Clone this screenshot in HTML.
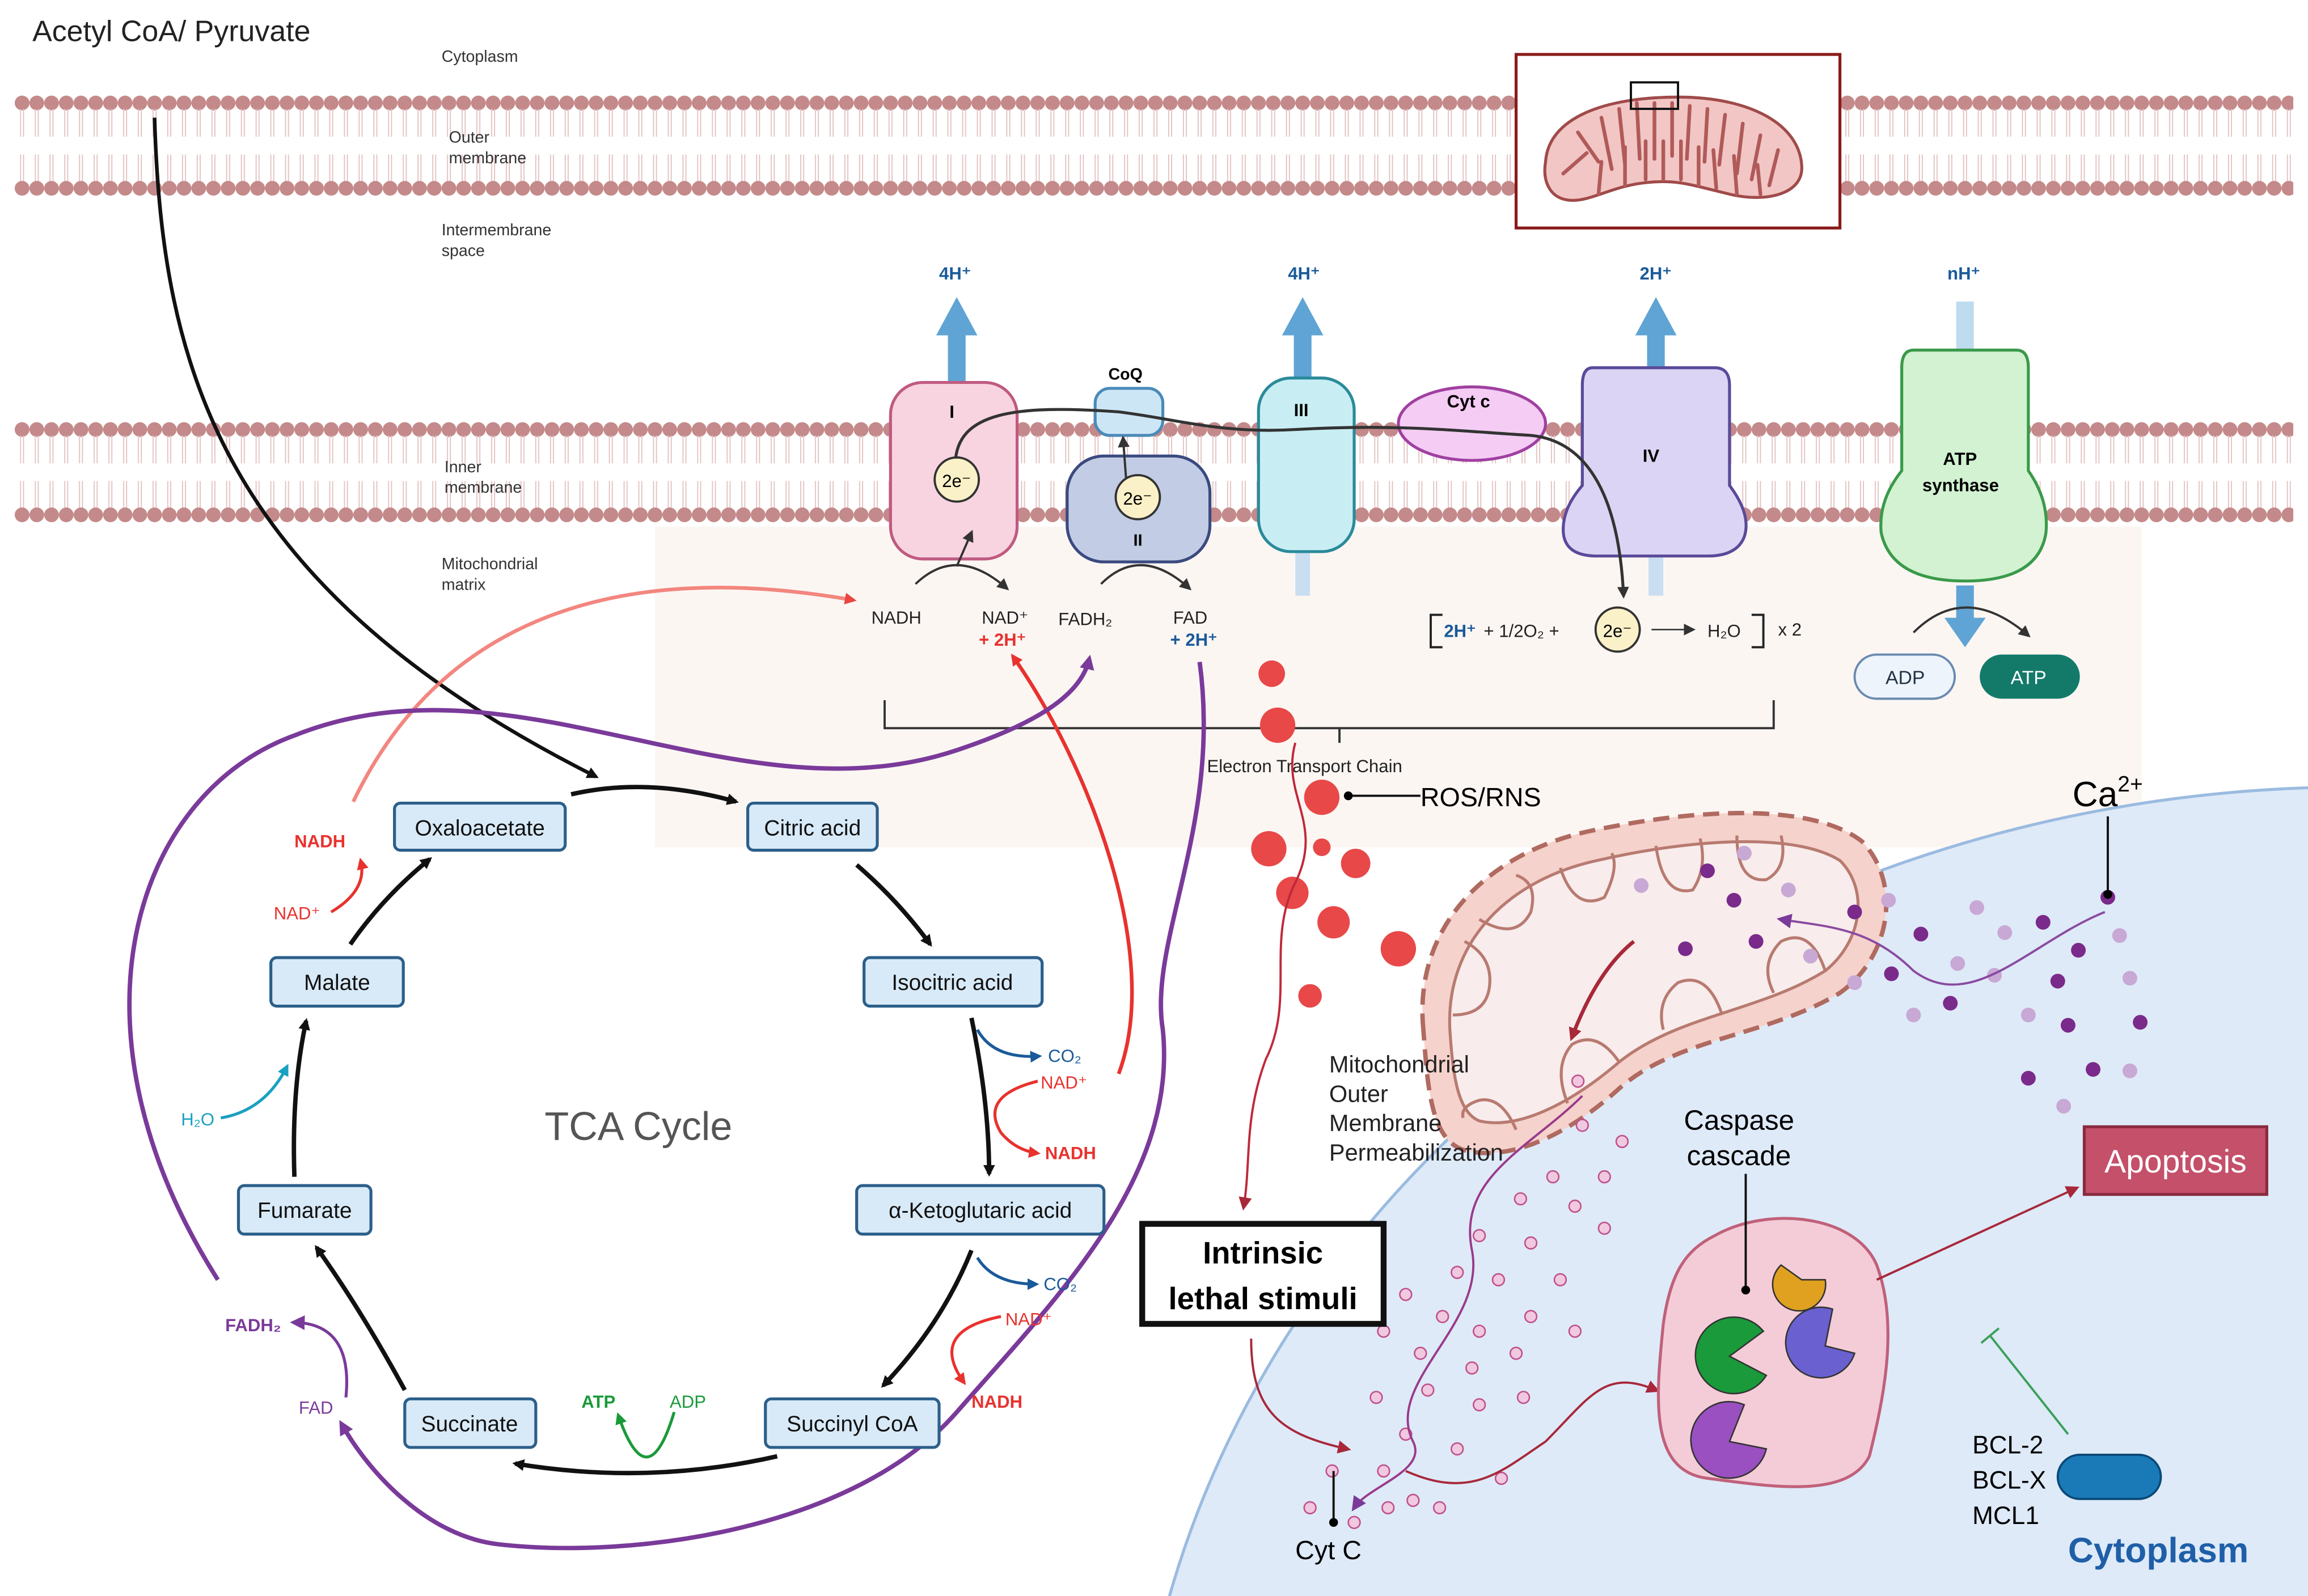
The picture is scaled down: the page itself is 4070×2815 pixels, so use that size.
<!DOCTYPE html>
<html><head><meta charset="utf-8"><style>
html,body{margin:0;padding:0;background:#fff;width:4070px;height:2815px;overflow:hidden;}
svg{display:block;}
text{font-family:"Liberation Sans",sans-serif;}
</style></head><body>
<svg width="4070" height="2815" viewBox="0 0 1568 1085" preserveAspectRatio="none" xmlns="http://www.w3.org/2000/svg">
<defs>
<pattern id="lip1" x="0" y="65" width="10" height="68" patternUnits="userSpaceOnUse">
<circle cx="5" cy="5" r="5" fill="#c4898a"/>
<path d="M4 9 L4 28 M6 9 L6 28 M4 40 L4 59 M6 40 L6 59" stroke="#e3c0c0" stroke-width="0.7"/>
<circle cx="5" cy="63" r="5" fill="#c4898a"/>
</pattern>
<pattern id="lip2" x="0" y="287" width="10" height="68" patternUnits="userSpaceOnUse">
<circle cx="5" cy="5" r="5" fill="#c4898a"/>
<path d="M4 9 L4 28 M6 9 L6 28 M4 40 L4 59 M6 40 L6 59" stroke="#e3c0c0" stroke-width="0.7"/>
<circle cx="5" cy="63" r="5" fill="#c4898a"/>
</pattern>
<marker id="ak" markerWidth="8" markerHeight="8" refX="6" refY="4" orient="auto" markerUnits="userSpaceOnUse"><path d="M0 0 L8 4 L0 8z" fill="#111"/></marker>
<marker id="ar" markerWidth="8" markerHeight="8" refX="6" refY="4" orient="auto" markerUnits="userSpaceOnUse"><path d="M0 0 L8 4 L0 8z" fill="#e8322e"/></marker>
<marker id="ap" markerWidth="10" markerHeight="10" refX="7" refY="5" orient="auto" markerUnits="userSpaceOnUse"><path d="M0 0 L10 5 L0 10z" fill="#7a3a9a"/></marker>
<marker id="ab" markerWidth="8" markerHeight="8" refX="6" refY="4" orient="auto" markerUnits="userSpaceOnUse"><path d="M0 0 L8 4 L0 8z" fill="#1a5a9a"/></marker>
<marker id="ac" markerWidth="8" markerHeight="8" refX="6" refY="4" orient="auto" markerUnits="userSpaceOnUse"><path d="M0 0 L8 4 L0 8z" fill="#1aa0c0"/></marker>
<marker id="ag" markerWidth="8" markerHeight="8" refX="6" refY="4" orient="auto" markerUnits="userSpaceOnUse"><path d="M0 0 L8 4 L0 8z" fill="#1a9a3a"/></marker>
<marker id="am" markerWidth="9" markerHeight="9" refX="6" refY="4.5" orient="auto" markerUnits="userSpaceOnUse"><path d="M0 0 L9 4.5 L0 9z" fill="#a8283a"/></marker>
<marker id="al" markerWidth="8" markerHeight="8" refX="6" refY="4" orient="auto" markerUnits="userSpaceOnUse"><path d="M0 0 L8 4 L0 8z" fill="#333"/></marker>
</defs>
<rect width="1568" height="1085" fill="#fff"/>
<rect x="445" y="358" width="1010" height="218" fill="#fcf6f3"/>
<ellipse cx="1600" cy="1260" rx="830" ry="725" fill="#deeaf8" stroke="#9bbbe0" stroke-width="2"/>
<rect x="10" y="65" width="1548" height="68" fill="url(#lip1)"/>
<rect x="10" y="287" width="1548" height="68" fill="url(#lip2)"/>
<text x="300" y="42" font-size="11" fill="#333">Cytoplasm</text>
<text x="305" y="97" font-size="11" fill="#333">Outer</text><text x="305" y="111" font-size="11" fill="#333">membrane</text>
<text x="300" y="160" font-size="11" fill="#333">Intermembrane</text><text x="300" y="174" font-size="11" fill="#333">space</text>
<text x="302" y="321" font-size="11" fill="#333">Inner</text><text x="302" y="335" font-size="11" fill="#333">membrane</text>
<text x="300" y="387" font-size="11" fill="#333">Mitochondrial</text><text x="300" y="401" font-size="11" fill="#333">matrix</text>
<text x="22" y="28" font-size="20" fill="#222">Acetyl CoA/ Pyruvate</text>
<rect x="1030" y="37" width="220" height="118" fill="#fff" stroke="#8a1a1a" stroke-width="2"/>
<path d="M1050 110 C1052 80 1090 66 1140 66 C1190 66 1222 85 1224 112 C1226 132 1200 138 1175 132 C1150 126 1140 122 1120 124 C1095 126 1080 138 1065 136 C1052 134 1048 122 1050 110z" fill="#f2c6c4" stroke="#a04a4a" stroke-width="2"/>
<path d="M1062 118 L1078 104 M1072 90 L1086 110 M1088 80 L1095 115 M1100 74 L1104 112 M1112 70 L1114 108 M1124 70 L1124 108 M1136 70 L1136 106 M1148 72 L1146 108 M1160 74 L1158 110 M1172 78 L1168 112 M1184 84 L1180 118 M1196 92 L1190 122 M1208 102 L1202 126 M1086 132 L1088 110 M1104 126 L1104 100 M1118 122 L1118 96 M1130 122 L1130 96 M1142 122 L1142 96 M1154 126 L1154 100 M1166 128 L1164 102 M1180 132 L1178 106 M1196 132 L1194 112" stroke="#b05a5a" stroke-width="2.5" stroke-linecap="round"/>
<rect x="1108" y="56" width="32" height="18" fill="none" stroke="#111" stroke-width="1.5"/>
<g fill="#5fa4d4">
<path d="M644 262 L644 228 L636 228 L650 202 L664 228 L656 228 L656 262z"/>
<path d="M879 262 L879 228 L871 228 L885 202 L899 228 L891 228 L891 262z"/>
<path d="M1119 252 L1119 228 L1111 228 L1125 202 L1139 228 L1131 228 L1131 252z"/>
<path d="M1329 240 L1329 205 L1341 205 L1341 240z" opacity="0.4"/>
<path d="M1329 398 L1329 420 L1321 420 L1335 440 L1349 420 L1341 420 L1341 398z"/>
</g>
<rect x="880" y="375" width="10" height="30" fill="#c9def0"/>
<rect x="1120" y="375" width="10" height="30" fill="#c9def0"/>
<g font-size="12" font-weight="bold" fill="#1a5a9a">
<text x="638" y="190">4H⁺</text><text x="875" y="190">4H⁺</text><text x="1114" y="190">2H⁺</text><text x="1323" y="190">nH⁺</text></g>
<rect x="605" y="260" width="86" height="120" rx="22" fill="#f8d4e0" stroke="#c05a80" stroke-width="2"/>
<text x="645" y="284" font-size="12" font-weight="bold">I</text>
<rect x="744" y="264" width="46" height="32" rx="10" fill="#cde6f6" stroke="#4a8ab8" stroke-width="2"/>
<text x="753" y="258" font-size="11" font-weight="bold">CoQ</text>
<rect x="725" y="310" width="97" height="72" rx="25" fill="#c2cce4" stroke="#3a4a80" stroke-width="2"/>
<text x="770" y="371" font-size="11" font-weight="bold">II</text>
<rect x="855" y="257" width="65" height="118" rx="22" fill="#c8eef4" stroke="#2a8a9a" stroke-width="2"/>
<text x="879" y="283" font-size="12" font-weight="bold">III</text>
<ellipse cx="1000" cy="288" rx="50" ry="25" fill="#f4ccf4" stroke="#a040a0" stroke-width="2"/>
<text x="983" y="277" font-size="12" font-weight="bold">Cyt c</text>
<path d="M1082 250 L1165 250 Q1175 250 1175 262 L1175 330 Q1190 350 1185 365 Q1180 378 1160 378 L1085 378 Q1062 378 1062 360 Q1062 345 1075 330 L1075 262 Q1075 250 1082 250z" fill="#dcd4f4" stroke="#5a4a9a" stroke-width="2"/>
<text x="1116" y="314" font-size="12" font-weight="bold">IV</text>
<path d="M1300 238 L1370 238 Q1378 238 1378 250 L1378 320 Q1392 340 1390 362 Q1385 395 1335 395 Q1285 395 1278 362 Q1276 340 1292 320 L1292 250 Q1292 238 1300 238z" fill="#d2f2d2" stroke="#3a9a4a" stroke-width="2"/>
<text x="1320" y="316" font-size="12" font-weight="bold">ATP</text><text x="1306" y="334" font-size="12" font-weight="bold">synthase</text>
<path d="M649 315 C650 280 690 275 760 280 C800 285 830 295 880 292 C950 288 990 293 1040 296 C1080 300 1100 340 1103 405" fill="none" stroke="#333" stroke-width="2" marker-end="url(#al)"/>
<path d="M765 325 L763 298" stroke="#333" stroke-width="1.5" marker-end="url(#al)"/>
<g font-size="12"><circle cx="650" cy="326" r="15" fill="#fbf1c8" stroke="#333" stroke-width="1.5"/><text x="640" y="331">2e⁻</text>
<circle cx="773" cy="338" r="15" fill="#fbf1c8" stroke="#333" stroke-width="1.5"/><text x="763" y="343">2e⁻</text>
<circle cx="1099" cy="428" r="15" fill="#fbf1c8" stroke="#333" stroke-width="1.5"/><text x="1089" y="433">2e⁻</text></g>
<path d="M622 397 Q650 370 684 400" fill="none" stroke="#333" stroke-width="1.5" marker-end="url(#al)"/>
<path d="M650 385 L660 362" stroke="#333" stroke-width="1.5" marker-end="url(#al)"/>
<path d="M748 397 Q775 370 808 400" fill="none" stroke="#333" stroke-width="1.5" marker-end="url(#al)"/>
<path d="M1300 430 Q1335 395 1378 432" fill="none" stroke="#333" stroke-width="1.5" marker-end="url(#al)"/>
<g font-size="12" fill="#222">
<text x="592" y="424">NADH</text><text x="667" y="424">NAD⁺</text><text x="665" y="439" fill="#e8322e" font-weight="bold">+ 2H⁺</text>
<text x="719" y="425">FADH₂</text><text x="797" y="424">FAD</text><text x="795" y="439" fill="#1a5a9a" font-weight="bold">+ 2H⁺</text>
<text x="981" y="433" fill="#1a5a9a" font-weight="bold">2H⁺</text><text x="1008" y="433">+ 1/2O₂ +</text>
<text x="1160" y="433">H₂O</text><text x="1208" y="432">x 2</text>
<text x="820" y="525">Electron Transport Chain</text></g>
<path d="M980 418 L972 418 L972 440 L980 440 M1190 418 L1198 418 L1198 440 L1190 440" fill="none" stroke="#222" stroke-width="1.5"/>
<path d="M1122 428 L1150 428" stroke="#333" stroke-width="1" marker-end="url(#al)"/>
<path d="M601 476 L601 495 L1205 495 L1205 476 M910 495 L910 505" fill="none" stroke="#333" stroke-width="1.5"/>
<rect x="1260" y="445" width="68" height="30" rx="15" fill="#eef4fc" stroke="#6a8ab0" stroke-width="1.5"/><text x="1281" y="465" font-size="13" fill="#234">ADP</text>
<rect x="1345" y="445" width="68" height="30" rx="15" fill="#137a6a"/><text x="1366" y="465" font-size="13" fill="#fff">ATP</text>
<path d="M105 80 C110 250 150 400 405 528" fill="none" stroke="#111" stroke-width="2.5" marker-end="url(#ak)"/>
<path d="M240 545 C300 420 420 380 580 408" fill="none" stroke="#f27a72" stroke-width="2.5" marker-end="url(#ar)" opacity="0.9"/>
<path d="M760 730 C790 650 740 520 688 446" fill="none" stroke="#e8322e" stroke-width="2.5" marker-end="url(#ar)"/>
<path d="M148 870 C40 700 90 540 200 500 C350 440 500 560 650 510 C710 490 735 470 740 448" fill="none" stroke="#7a3a9a" stroke-width="3" marker-end="url(#ap)"/>
<path d="M815 450 C830 560 780 640 790 700 C800 800 720 880 650 960 C580 1040 430 1060 340 1050 C290 1045 250 1000 232 968" fill="none" stroke="#7a3a9a" stroke-width="3" marker-end="url(#ap)"/>
<g fill="#d8eaf8" stroke="#2c5f8a" stroke-width="2">
<rect x="268" y="546" width="116" height="32" rx="4"/><rect x="508" y="546" width="88" height="32" rx="4"/>
<rect x="587" y="651" width="121" height="33" rx="4"/><rect x="582" y="806" width="168" height="33" rx="4"/>
<rect x="520" y="951" width="118" height="33" rx="4"/><rect x="275" y="951" width="89" height="33" rx="4"/>
<rect x="162" y="806" width="90" height="33" rx="4"/><rect x="184" y="651" width="90" height="33" rx="4"/></g>
<g font-size="15" fill="#111" text-anchor="middle">
<text x="326" y="568">Oxaloacetate</text><text x="552" y="568">Citric acid</text><text x="647" y="673">Isocitric acid</text>
<text x="666" y="828">α-Ketoglutaric acid</text><text x="579" y="973">Succinyl CoA</text><text x="319" y="973">Succinate</text>
<text x="207" y="828">Fumarate</text><text x="229" y="673">Malate</text></g>
<text x="370" y="775" font-size="27" fill="#555">TCA Cycle</text>
<g fill="none" stroke="#111" stroke-width="3">
<path d="M388 540 Q440 528 500 545" marker-end="url(#ak)"/>
<path d="M582 588 Q610 612 632 642" marker-end="url(#ak)"/>
<path d="M660 692 Q672 750 672 798" marker-end="url(#ak)"/>
<path d="M660 850 Q640 900 600 942" marker-end="url(#ak)"/>
<path d="M528 990 Q440 1010 350 995" marker-end="url(#ak)"/>
<path d="M275 945 Q245 890 215 848" marker-end="url(#ak)"/>
<path d="M200 800 Q198 740 208 694" marker-end="url(#ak)"/>
<path d="M238 642 Q260 610 292 584" marker-end="url(#ak)"/></g>
<g font-size="12" font-weight="bold">
<text x="200" y="576" fill="#e8322e">NADH</text><text x="186" y="625" fill="#e8322e" font-weight="normal">NAD⁺</text>
<text x="710" y="788" fill="#e8322e">NADH</text><text x="707" y="740" fill="#e8322e" font-weight="normal">NAD⁺</text>
<text x="712" y="722" fill="#1a5a9a" font-weight="normal">CO₂</text>
<text x="709" y="877" fill="#1a5a9a" font-weight="normal">CO₂</text>
<text x="683" y="901" fill="#e8322e" font-weight="normal">NAD⁺</text><text x="660" y="957" fill="#e8322e">NADH</text>
<text x="395" y="957" fill="#1a9a3a">ATP</text><text x="455" y="957" fill="#1a9a3a" font-weight="normal">ADP</text>
<text x="153" y="905" fill="#7a3a9a">FADH₂</text><text x="203" y="961" fill="#7a3a9a" font-weight="normal">FAD</text>
<text x="123" y="765" fill="#1aa0c0" font-weight="normal">H₂O</text></g>
<g fill="none" stroke-width="2">
<path d="M225 620 Q250 605 245 585" stroke="#e8322e" marker-end="url(#ar)"/>
<path d="M664 700 Q675 720 706 718" stroke="#1a5a9a" marker-end="url(#ab)"/>
<path d="M705 735 Q665 745 680 770 Q690 782 705 784" stroke="#e8322e" marker-end="url(#ar)"/>
<path d="M664 855 Q675 873 704 873" stroke="#1a5a9a" marker-end="url(#ab)"/>
<path d="M680 895 Q630 905 655 940" stroke="#e8322e" marker-end="url(#ar)"/>
<path d="M458 960 Q440 1020 420 962" stroke="#1a9a3a" marker-end="url(#ag)"/>
<path d="M235 950 Q240 900 200 899" stroke="#7a3a9a" marker-end="url(#ap)"/>
<path d="M150 760 Q180 755 195 725" stroke="#1aa0c0" marker-end="url(#ac)"/></g>
<g fill="#e84848">
<circle cx="864" cy="458" r="9"/><circle cx="868" cy="493" r="12"/><circle cx="898" cy="542" r="12"/>
<circle cx="862" cy="577" r="12"/><circle cx="898" cy="576" r="6"/><circle cx="921" cy="587" r="10"/>
<circle cx="878" cy="607" r="11"/><circle cx="906" cy="627" r="11"/><circle cx="950" cy="645" r="12"/>
<circle cx="993" cy="633" r="12"/><circle cx="890" cy="677" r="8"/></g>
<path d="M880 505 C870 540 900 560 880 600 C860 640 880 680 860 720 C845 760 850 790 845 820" fill="none" stroke="#c0283a" stroke-width="1.5" marker-end="url(#am)"/>
<path d="M916 541 L965 541" stroke="#111" stroke-width="1.5"/><circle cx="916" cy="541" r="3"/>
<text x="965" y="548" font-size="18">ROS/RNS</text>
<!-- big banana mito -->
<path d="M967 700 C960 630 1010 580 1080 565 C1150 550 1230 545 1265 572 C1292 600 1285 650 1250 675 C1200 705 1140 705 1100 740 C1065 772 1025 790 995 782 C972 775 970 740 967 700z" fill="#f5d2cc" stroke="#b06a60" stroke-width="3" stroke-dasharray="11 6"/>
<path d="M985 700 C982 640 1025 598 1085 585 C1150 570 1220 566 1250 585 C1270 605 1265 640 1240 660 C1195 688 1140 690 1100 722 C1065 752 1030 768 1005 762 C990 756 987 730 985 700z" fill="#f8ecec" stroke="#b87a70" stroke-width="2"/>
<path d="M987 690 Q1010 690 1012 670 Q1014 650 995 640 M1005 625 Q1030 640 1040 620 Q1045 600 1030 595 M1060 590 Q1070 620 1090 610 Q1100 590 1095 580 M1125 575 Q1130 610 1150 605 Q1160 590 1155 570 M1180 568 Q1180 600 1200 598 Q1215 590 1210 568 M1240 660 Q1230 630 1210 640 Q1195 655 1205 675 M1170 690 Q1160 660 1140 668 Q1125 680 1130 700 M1100 722 Q1085 700 1068 710 Q1055 725 1065 750 M1030 768 Q1020 745 1005 748 Q992 752 994 760" fill="none" stroke="#b87a70" stroke-width="2"/>
<path d="M1110 640 Q1085 660 1068 705" fill="none" stroke="#a8283a" stroke-width="2.5" marker-end="url(#am)"/>
<text x="903" y="729" font-size="16" fill="#222">Mitochondrial</text><text x="903" y="749" font-size="16" fill="#222">Outer</text>
<text x="903" y="769" font-size="16" fill="#222">Membrane</text><text x="903" y="789" font-size="16" fill="#222">Permeabilization</text>
<g fill="#7a2a8a">
<circle cx="1160" cy="592" r="5"/><circle cx="1178" cy="612" r="5"/><circle cx="1193" cy="640" r="5"/><circle cx="1145" cy="645" r="5"/>
<circle cx="1260" cy="620" r="5"/><circle cx="1305" cy="635" r="5"/><circle cx="1285" cy="662" r="5"/><circle cx="1325" cy="682" r="5"/>
<circle cx="1388" cy="627" r="5"/><circle cx="1412" cy="646" r="5"/><circle cx="1432" cy="610" r="5"/><circle cx="1405" cy="697" r="5"/>
<circle cx="1454" cy="695" r="5"/><circle cx="1378" cy="733" r="5"/><circle cx="1422" cy="727" r="5"/><circle cx="1398" cy="667" r="5"/></g>
<g fill="#c8a8d4">
<circle cx="1185" cy="580" r="5"/><circle cx="1215" cy="605" r="5"/><circle cx="1230" cy="650" r="5"/><circle cx="1283" cy="612" r="5"/>
<circle cx="1343" cy="617" r="5"/><circle cx="1362" cy="634" r="5"/><circle cx="1300" cy="690" r="5"/><circle cx="1355" cy="663" r="5"/>
<circle cx="1440" cy="636" r="5"/><circle cx="1447" cy="665" r="5"/><circle cx="1378" cy="690" r="5"/><circle cx="1447" cy="728" r="5"/>
<circle cx="1402" cy="752" r="5"/><circle cx="1330" cy="655" r="5"/><circle cx="1260" cy="668" r="5"/><circle cx="1115" cy="602" r="5"/></g>
<path d="M1430 620 C1380 640 1340 690 1300 660 C1270 630 1240 630 1210 625" fill="none" stroke="#8a4aa0" stroke-width="1.5" marker-end="url(#ap)"/>
<path d="M1432 608 L1432 555" stroke="#111" stroke-width="1.5"/><circle cx="1432" cy="608" r="3"/>
<text x="1408" y="548" font-size="24">Ca<tspan font-size="15" dy="-10">2+</tspan></text>
<g fill="#f0c8e0" stroke="#c0508a" stroke-width="1">
<circle cx="1072" cy="735" r="4"/><circle cx="1075" cy="765" r="4"/><circle cx="1102" cy="776" r="4"/><circle cx="1090" cy="800" r="4"/>
<circle cx="1055" cy="800" r="4"/><circle cx="1033" cy="815" r="4"/><circle cx="1070" cy="820" r="4"/><circle cx="1005" cy="840" r="4"/>
<circle cx="1040" cy="845" r="4"/><circle cx="1090" cy="835" r="4"/><circle cx="990" cy="865" r="4"/><circle cx="1018" cy="870" r="4"/>
<circle cx="1060" cy="870" r="4"/><circle cx="955" cy="880" r="4"/><circle cx="980" cy="895" r="4"/><circle cx="1005" cy="905" r="4"/>
<circle cx="1040" cy="895" r="4"/><circle cx="1070" cy="905" r="4"/><circle cx="940" cy="905" r="4"/><circle cx="965" cy="920" r="4"/>
<circle cx="1000" cy="930" r="4"/><circle cx="1030" cy="920" r="4"/><circle cx="935" cy="950" r="4"/><circle cx="970" cy="945" r="4"/>
<circle cx="1005" cy="955" r="4"/><circle cx="1035" cy="950" r="4"/><circle cx="955" cy="975" r="4"/><circle cx="990" cy="985" r="4"/>
<circle cx="1020" cy="1005" r="4"/><circle cx="940" cy="1000" r="4"/><circle cx="960" cy="1020" r="4"/><circle cx="905" cy="1000" r="4"/>
<circle cx="920" cy="1035" r="4"/><circle cx="890" cy="1025" r="4"/><circle cx="943" cy="1025" r="4"/><circle cx="978" cy="1025" r="4"/></g>
<path d="M1075 745 C1040 780 990 800 1000 850 C1010 900 940 940 960 980 C970 1000 930 1010 920 1025" fill="none" stroke="#9a3a8a" stroke-width="1.5" marker-end="url(#ap)"/>
<path d="M906 1000 L906 1035" stroke="#111" stroke-width="1.5"/><circle cx="906" cy="1035" r="3"/>
<text x="880" y="1060" font-size="18">Cyt C</text>
<rect x="776" y="832" width="164" height="68" fill="#fff" stroke="#111" stroke-width="4"/>
<text x="858" y="859" font-size="21" font-weight="bold" text-anchor="middle">Intrinsic</text>
<text x="858" y="890" font-size="21" font-weight="bold" text-anchor="middle">lethal stimuli</text>
<path d="M850 910 C850 960 870 975 915 985" fill="none" stroke="#a8283a" stroke-width="1.5" marker-end="url(#am)"/>
<path d="M955 1000 C1000 1020 1020 1000 1050 980 C1080 950 1090 930 1125 945" fill="none" stroke="#a8283a" stroke-width="1.5" marker-end="url(#am)"/>
<path d="M1165 840 C1200 820 1260 825 1275 860 C1290 900 1280 950 1270 990 C1255 1020 1200 1010 1160 1005 C1120 1000 1125 950 1130 900 C1135 865 1145 850 1165 840z" fill="#f4ccd8" stroke="#c0607a" stroke-width="2"/>
<path d="M1240 870 A18 18 0 1 1 1210 860 L1224 870z" fill="#e0a020" stroke="#333"/>
<path d="M1260 920 A24 24 0 1 1 1245 890 L1240 915z" fill="#6a60d0" stroke="#333"/>
<path d="M1200 935 A26 26 0 1 1 1198 905 L1175 922z" fill="#1a9a3a" stroke="#333"/>
<path d="M1200 985 A26 26 0 1 1 1185 955 L1175 980z" fill="#9a50c0" stroke="#333"/>
<path d="M1186 798 L1186 875" stroke="#111" stroke-width="1.5"/><circle cx="1186" cy="877" r="3"/>
<text x="1144" y="768" font-size="19">Caspase</text><text x="1146" y="792" font-size="19">cascade</text>
<path d="M1275 870 L1410 808" stroke="#a8283a" stroke-width="1.5" marker-end="url(#am)"/>
<rect x="1416" y="766" width="124" height="46" fill="#c4506a" stroke="#8a2a40" stroke-width="2"/>
<text x="1478" y="797" font-size="22" fill="#fff" text-anchor="middle">Apoptosis</text>
<path d="M1405 975 L1352 908 M1346 913 L1358 903" stroke="#3aa05a" stroke-width="1.5"/>
<rect x="1398" y="989" width="70" height="30" rx="15" fill="#1a7ab8" stroke="#0a4a78" stroke-width="1.5"/>
<text x="1340" y="988" font-size="17">BCL-2</text><text x="1340" y="1012" font-size="17">BCL-X</text><text x="1340" y="1036" font-size="17">MCL1</text>
<text x="1405" y="1062" font-size="24" font-weight="bold" fill="#1f5fa8">Cytoplasm</text>
</svg>
</body></html>
